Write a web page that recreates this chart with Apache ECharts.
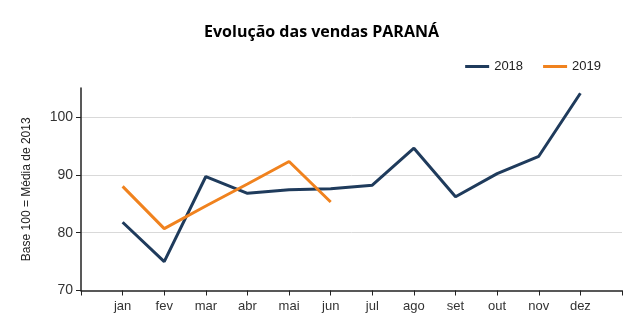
<!DOCTYPE html>
<html><head><meta charset="utf-8">
<script src="https://cdn.jsdelivr.net/npm/echarts@6/dist/echarts.min.js"></script>
<style>html,body{margin:0;padding:0;background:#fff}#c{width:643px;height:327px}</style>
</head><body><div id="c"></div>
<script>
const months = ['', 'jan','fev','mar','abr','mai','jun','jul','ago','set','out','nov','dez', ''];
const s2018 = [null, 81.8, 75.0, 89.7, 86.8, 87.4, 87.6, 88.2, 94.6, 86.2, 90.2, 93.2, 104.1, null];
const s2019 = [null, 88.0, 80.7, 84.6, 88.4, 92.3, 85.3, null, null, null, null, null, null, null];
const yTicks = [70, 80, 90, 100];

const chart = echarts.init(document.getElementById('c'));
chart.setOption({
  animation: false,
  title: {
    text: 'Evolução das vendas PARANÁ',
    left: 'center', top: 19,
    textStyle: {fontFamily: 'Open Sans', fontWeight: 'bold', fontSize: 16, color: '#000'}
  },
  legend: {
    right: 37, top: 55,
    itemWidth: 24, itemHeight: 3, itemGap: 20,
    icon: 'rect',
    textStyle: {fontFamily: 'Liberation Sans', fontSize: 13, color: '#222'},
    data: ['2018', '2019']
  },
  grid: {left: 81, right: 21, top: 88, bottom: 36.5},
  xAxis: {
    type: 'category', data: months, boundaryGap: false,
    axisLine: {lineStyle: {color: '#222', width: 1.5}},
    axisTick: {show: true, length: 5, lineStyle: {color: '#222'}},
    axisLabel: {color: '#333', fontFamily: 'Liberation Sans', fontSize: 13, margin: 9},
    splitLine: {show: false}
  },
  yAxis: {
    type: 'value', min: 70, max: 105, interval: 10,
    name: 'Base 100 = Média de 2013', nameLocation: 'middle', nameGap: 48, nameRotate: 90,
    nameTextStyle: {fontFamily: 'Liberation Sans', fontSize: 12, color: '#222'},
    axisLine: {show: true, lineStyle: {color: '#222', width: 1.5}},
    axisTick: {show: true, length: 5, lineStyle: {color: '#222'}},
    axisLabel: {color: '#333', fontFamily: 'Liberation Sans', fontSize: 14, margin: 8, showMaxLabel: false,
      formatter: v => yTicks.includes(v) ? String(v) : ''},
    splitLine: {show: true, showMinLine: false, showMaxLine: false, lineStyle: {color: '#d9d9d9', width: 1}}
  },
  series: [
    {name: '2018', type: 'line', data: s2018, symbol: 'none', connectNulls: false,
      lineStyle: {color: '#1f3b5c', width: 3}, itemStyle: {color: '#1f3b5c'}},
    {name: '2019', type: 'line', data: s2019, symbol: 'none',
      lineStyle: {color: '#f0821e', width: 3}, itemStyle: {color: '#f0821e'}}
  ]
});
</script></body></html>
